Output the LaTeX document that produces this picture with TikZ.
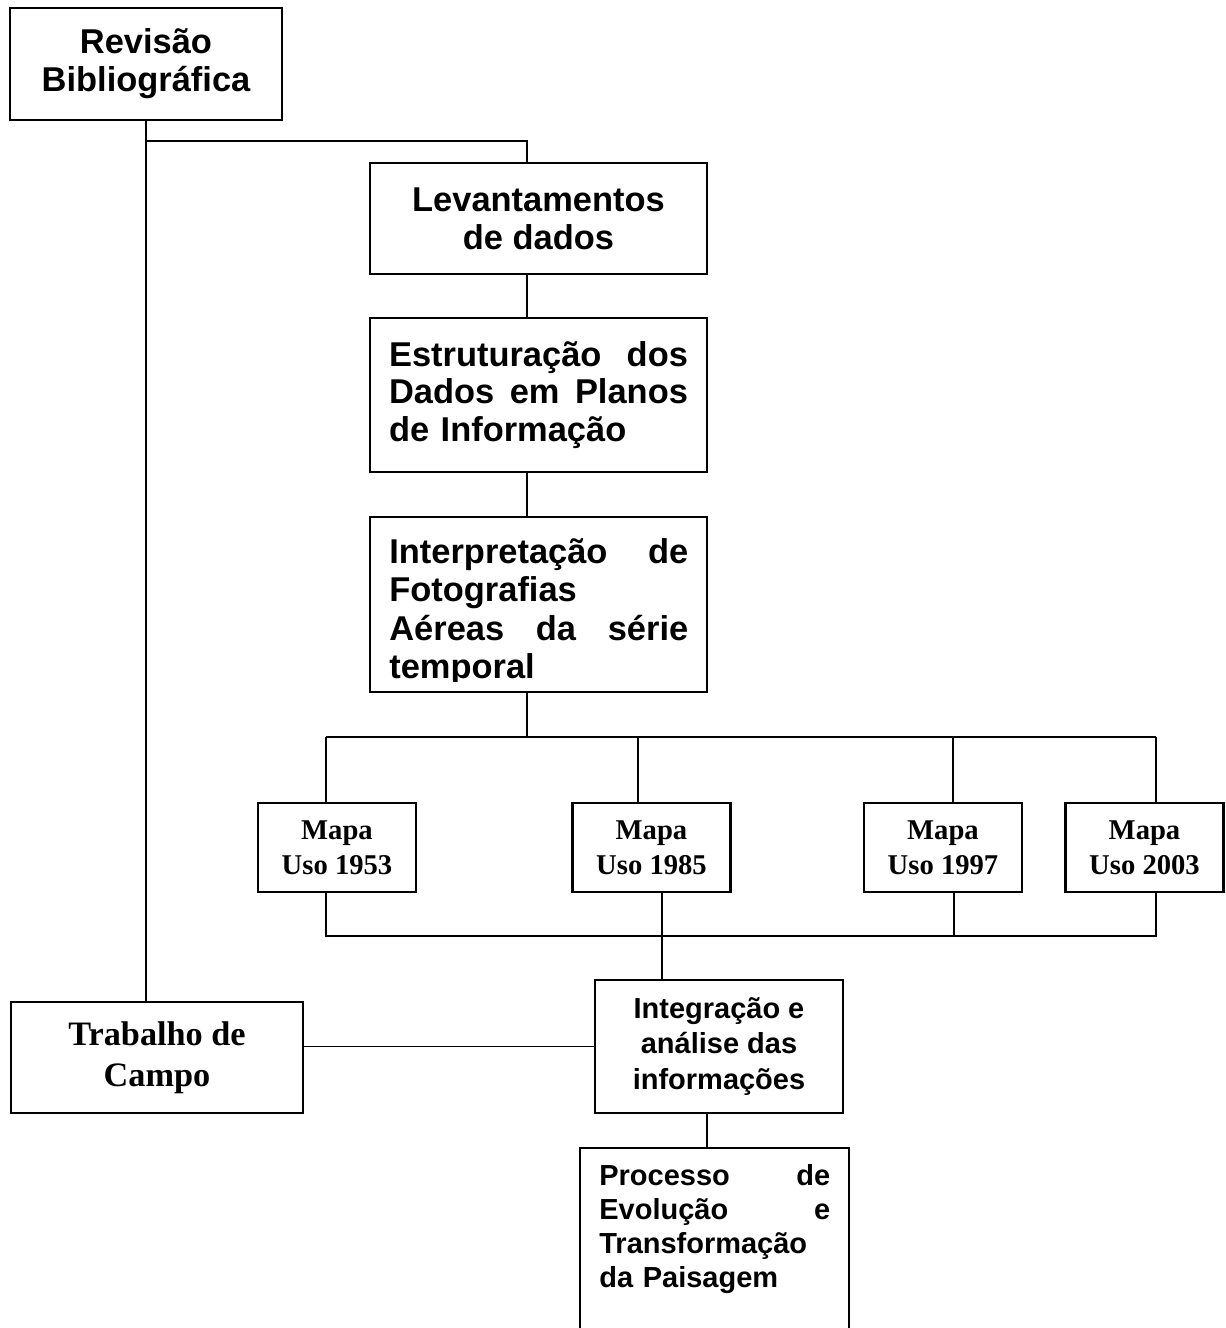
\documentclass[tikz,border=0pt]{standalone}
\usepackage{fontspec}
\setmainfont{Liberation Sans}
\newfontfamily\timesfont{Liberation Serif}

\begin{document}
\begin{tikzpicture}[
  x=0.02cm, y=-0.02cm,
  box/.style={draw, line width=1.2pt, inner sep=0pt},
  link/.style={line width=0.8pt},
  arialbig/.style={font=\fontsize{19.6}{21.7}\selectfont\bfseries, align=center},
  arialjust/.style={font=\fontsize{19.6}{21.2}\selectfont\bfseries, text width=5.98cm, align=left, inner sep=0pt},
  arialsmall/.style={font=\fontsize{16.5}{20}\selectfont\bfseries},
  mapa/.style={box, minimum width=3.16cm, minimum height=1.78cm, align=center,
    font=\timesfont\fontsize{16.3}{19.9}\selectfont\bfseries}
]
  \useasboundingbox (0,0) rectangle (1225,1328);

  \node[box, arialbig, minimum width=5.44cm, minimum height=2.24cm] (rev) at (146,64) {Revisão\\Bibliográfica};
  \node[box, arialbig, minimum width=6.74cm, minimum height=2.22cm] (lev) at (538.5,218.5) {Levantamentos\\de dados};
  \node[box, arialjust, minimum width=6.74cm, minimum height=3.08cm] (est) at (538.5,395)
    {Estruturação\hfill dos\\Dados\hfill em\hfill Planos\\de Informação};
  \node[box, minimum width=6.74cm, minimum height=3.5cm] (int) at (538.5,604.5) {};
  \begin{scope}
    \clip (370,517) rectangle (707,681);
    \node[arialjust, font=\fontsize{19.6}{22}\selectfont\bfseries, anchor=base west] (inttext) at (389,563)
      {Interpretação\hfill de\\Fotografias\\Aéreas\hfill da\hfill série\\temporal};
  \end{scope}

  \node[mapa] (m53) at (337,847.5)   {Mapa\\Uso 1953};
  \node[mapa] (m85) at (651.5,847.5) {Mapa\\Uso 1985};
  \node[mapa] (m97) at (943,847.5)   {Mapa\\Uso 1997};
  \node[mapa] (m03) at (1144.5,847.5) {Mapa\\Uso 2003};

  \node[box, align=center, minimum width=5.84cm, minimum height=2.22cm,
    font=\timesfont\fontsize{19.5}{23.3}\selectfont\bfseries] (trab) at (157,1057.5) {Trabalho de\\Campo};
  \node[box, arialsmall, align=center, minimum width=4.96cm, minimum height=2.66cm] (integ) at (719,1046.5)
    {Integração e\\análise das\\informações};
  \node[box, anchor=north, minimum width=5.38cm, minimum height=4.26cm] (proc) at (714.5,1147) {};
  \node[font=\fontsize{16.5}{19.5}\selectfont\bfseries, anchor=base west, text width=4.62cm, align=left, inner sep=0pt]
    (proctext) at (599,1185) {Processo\hfill de\\Evolução\hfill e\\Transformação\\da Paisagem};

  \coordinate (spine) at (527,141);
  \coordinate (bus) at (527,737);
  \coordinate (t53) at (326,737);
  \coordinate (t85) at (638,737);
  \coordinate (t97) at (953,737);
  \coordinate (t03) at (1156,737);
  \coordinate (b53) at (326,936);
  \coordinate (b85) at (662,936);
  \coordinate (b97) at (954,936);
  \coordinate (b03) at (1156,936);
  \coordinate (down) at (707,0);

  \draw[link] (rev.south) -- (rev.south |- trab.north);
  \draw[link] (rev.south |- spine) -- (spine) -- (spine |- lev.north);
  \draw[link] (spine |- lev.south) -- (spine |- est.north);
  \draw[link] (spine |- est.south) -- (spine |- int.north);
  \draw[link] (spine |- int.south) -- (bus);
  \draw[link] (t53) -- (t03);
  \draw[link] (t53) -- (t53 |- m53.north);
  \draw[link] (t85) -- (t85 |- m85.north);
  \draw[link] (t97) -- (t97 |- m97.north);
  \draw[link] (t03) -- (t03 |- m03.north);
  \draw[link] (b53 |- m53.south) -- (b53) -- (b03) -- (b03 |- m03.south);
  \draw[link] (b97 |- m97.south) -- (b97);
  \draw[link] (b85 |- m85.south) -- (b85) -- (b85 |- integ.north);
  \draw[link] (integ.west) -- (integ.west -| trab.east);
  \draw[link] (down |- integ.south) -- (down |- proc.north);
\end{tikzpicture}
\end{document}
